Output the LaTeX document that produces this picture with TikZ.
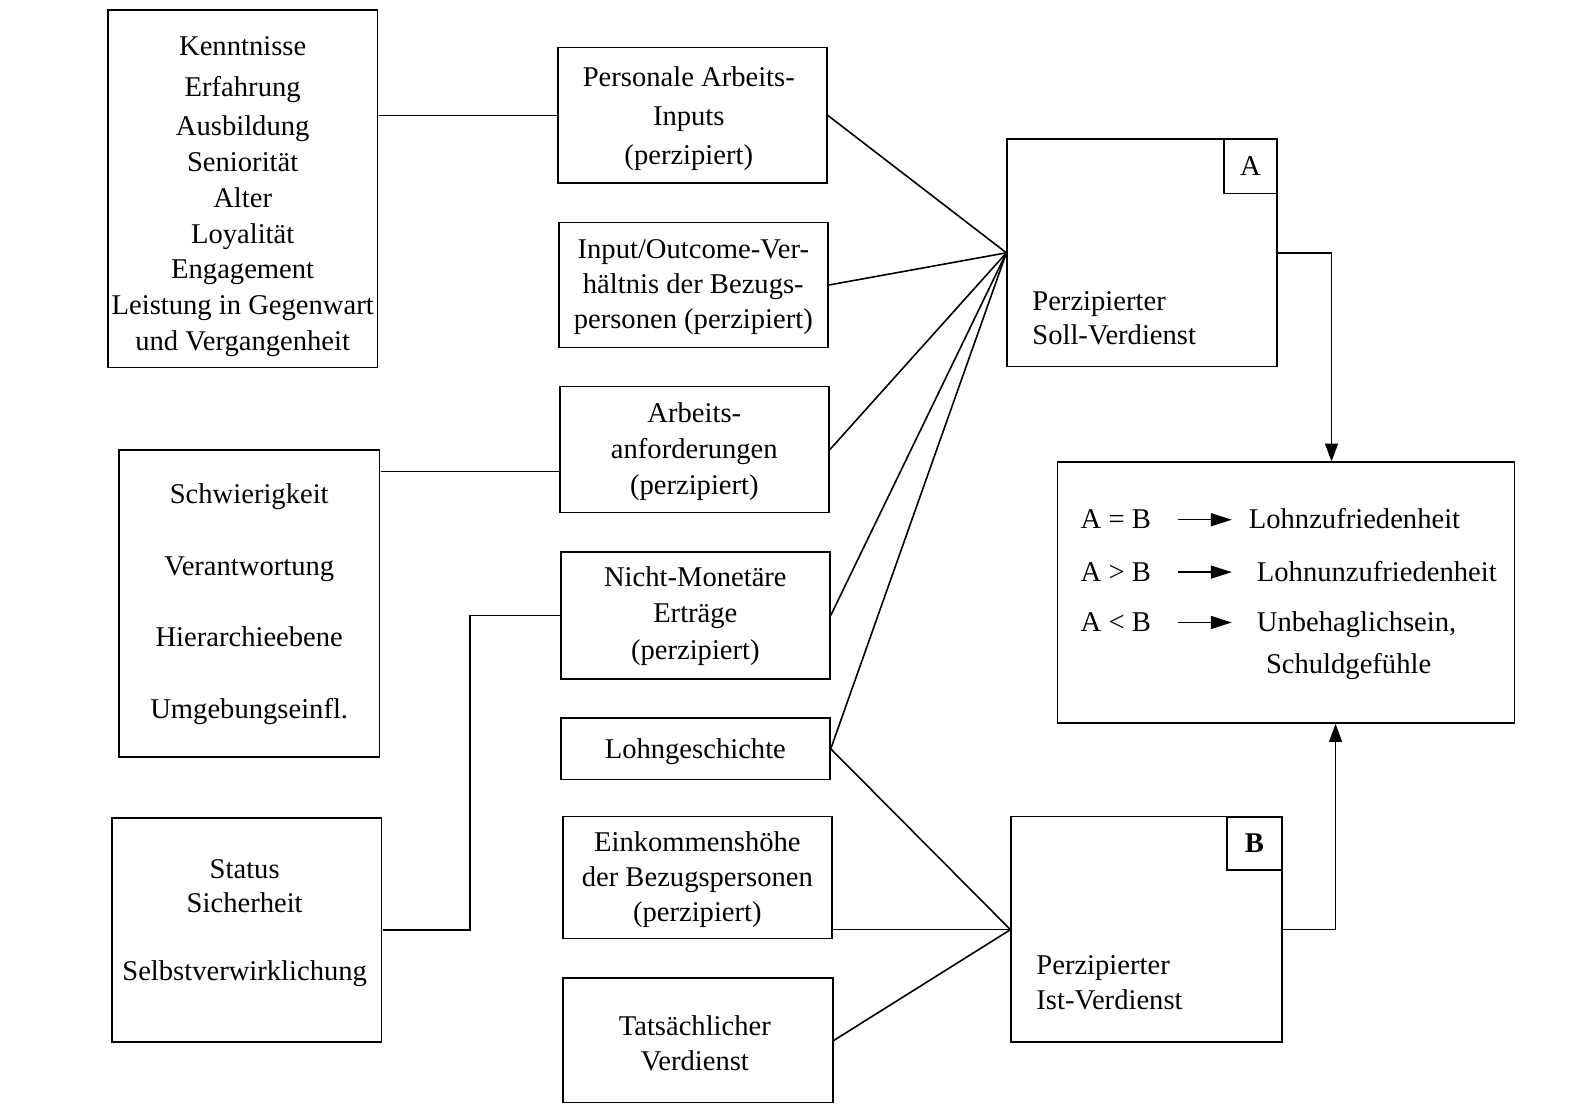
\documentclass[tikz,border=0pt]{standalone}
\usepackage{fontspec}
\setmainfont{Liberation Serif}
\usetikzlibrary{arrows.meta,calc}
\begin{document}
\begin{tikzpicture}[x=1pt,y=-1pt,
  box/.style={draw,line width=1.6pt,inner sep=0pt,align=center,font=\fontsize{28.4}{36}\selectfont},
  txt/.style={inner sep=0pt,align=center,font=\fontsize{28.4}{36}\selectfont},
  conn/.style={line width=1.6pt},
  arr/.style={line width=1.6pt,-{Triangle[width=13pt,length=18pt]}},
  sarr/.style={line width=1.4pt,-{Triangle[width=13pt,length=21pt]}}]
\useasboundingbox (0,0) rectangle (1579,1104);
\begin{scope}[scale=1.007,transform shape]
% left boxes
\node[box,minimum width=268pt,minimum height=355pt] (L1) at (241,187.5) {};
\node[txt,font=\fontsize{28.4}{35.5}\selectfont] (L1t) at (241,195)
  {Kenntnisse\\[5.5pt]Erfahrung\\[3.5pt]Ausbildung\\Seniorität\\Alter\\Loyalität\\Engagement\\Leistung in Gegenwart\\und Vergangenheit};
\node[box,minimum width=259pt,minimum height=305pt] (L2) at (247.5,599.5) {};
\node[txt,font=\fontsize{28.4}{36}\selectfont] (L2t) at (247.5,600)
  {Schwierigkeit\\[35pt]Verantwortung\\[35pt]Hierarchieebene\\[35pt]Umgebungseinfl.};
\node[box,minimum width=268pt,minimum height=223pt] (L3) at (245,923.5) {};
\node[txt,anchor=base] (L3a) at (243,872.5) {Status};
\node[txt,anchor=base] (L3b) at (243,906) {Sicherheit};
\node[txt,anchor=base] (L3c) at (243,973.5) {Selbstverwirklichung};
% middle boxes
\node[box,minimum width=267pt,minimum height=135pt] (M1) at (687.5,114.5) {};
\node[txt,font=\fontsize{28.4}{38.5}\selectfont] (M1t) at (684,117.7)
  {Personale Arbeits-\\Inputs\\(perzipiert)};
\node[box,minimum width=267pt,minimum height=124pt] (M2) at (688.5,283) {};
\node[txt,font=\fontsize{28.4}{35}\selectfont] (M2t) at (688.5,285)
  {Input/Outcome-Ver-\\hältnis der Bezugs-\\personen (perzipiert)};
\node[box,minimum width=267pt,minimum height=125pt] (M3) at (689.5,446.5) {};
\node[txt,font=\fontsize{28.4}{35.5}\selectfont] (M3t) at (689.5,448.4)
  {Arbeits-\\anforderungen\\(perzipiert)};
\node[box,minimum width=267pt,minimum height=126pt] (M4) at (690.5,611) {};
\node[txt,font=\fontsize{28.4}{36}\selectfont] (M4t) at (690.5,611.7)
  {Nicht-Monetäre\\Erträge\\(perzipiert)};
\node[box,minimum width=267pt,minimum height=61pt] (M5) at (690.5,743.5) {};
\node[txt] (M5t) at (690.5,746.3) {Lohngeschichte};
\node[box,minimum width=267pt,minimum height=121pt] (M6) at (692.5,871.5) {};
\node[txt,font=\fontsize{28.4}{34.5}\selectfont] (M6t) at (692.5,873.4)
  {Einkommenshöhe\\der Bezugspersonen\\(perzipiert)};
\node[box,minimum width=268pt,minimum height=124pt] (M7) at (693,1033) {};
\node[txt,font=\fontsize{28.4}{35}\selectfont] (M7t) at (690,1035.8)
  {Tatsächlicher\\Verdienst};
% A box
\node[box,minimum width=268pt,minimum height=226pt] (A) at (1134,251) {};
\node[box,minimum width=53pt,minimum height=54pt,anchor=north east] (As) at (A.north east) {A};
\node[txt,anchor=base west] (Aa) at (1025,308) {Perzipierter};
\node[txt,anchor=base west] (Ab) at (1025,342) {Soll-Verdienst};
% B box
\node[box,minimum width=269pt,minimum height=224pt] (B) at (1138.5,923) {};
\node[box,minimum width=55pt,minimum height=53pt,anchor=north east,font=\fontsize{28.4}{36}\selectfont\bfseries] (Bs) at (B.north east) {B};
\node[txt,anchor=base west] (Ba) at (1029,968) {Perzipierter};
\node[txt,anchor=base west] (Bb) at (1029,1002) {Ist-Verdienst};
% result box
\node[box,minimum width=454pt,minimum height=259pt] (R) at (1277,588.5) {};
\node[txt,anchor=base west] (c1) at (1073,525) {A = B};
\node[txt,anchor=base west] (c2) at (1073,577) {A > B};
\node[txt,anchor=base west] (c3) at (1073,627) {A < B};
\node[txt,anchor=base west] (r1) at (1240,525) {Lohnzufriedenheit};
\node[txt,anchor=base west] (r2) at (1248,577) {Lohnunzufriedenheit};
\node[txt,anchor=base west] (r3) at (1248,627) {Unbehaglichsein,};
\node[txt,anchor=base west] (r4) at (1257,669) {Schuldgefühle};
\coordinate (s1) at (1170,516); \coordinate (e1) at (1223,516);
\coordinate (s2) at (1170,568); \coordinate (e2) at (1223,568);
\coordinate (s3) at (1170,618); \coordinate (e3) at (1223,618);
\draw[sarr] (s1) -- (e1);
\draw[sarr] (s2) -- (e2);
\draw[sarr] (s3) -- (e3);
% connectors
\coordinate (y468) at (0,468);
\draw[conn] (L1.east |- M1.west) -- (M1.west);
\draw[conn] (L2.east |- y468) -- (M3.west |- y468);
\draw[conn] (L3.east) -- ++(87,0) |- (M4.west);
\draw[conn] (M1.east) -- (A.west);
\draw[conn] (M2.east) -- (A.west);
\draw[conn] (M3.east) -- (A.west);
\draw[conn] (M4.east) -- (A.west);
\draw[conn] (M5.east) -- (A.west);
\draw[conn] (M5.east) -- (B.west);
\draw[conn] (M6.east |- B.west) -- (B.west);
\draw[conn] (M7.east) -- (B.west);
\coordinate (ax) at (1322,0);
\coordinate (bx) at (1326,0);
\draw[arr] (A.east) -| (R.north -| ax);
\draw[arr] (B.east) -| (R.south -| bx);
\end{scope}
\end{tikzpicture}
\end{document}
